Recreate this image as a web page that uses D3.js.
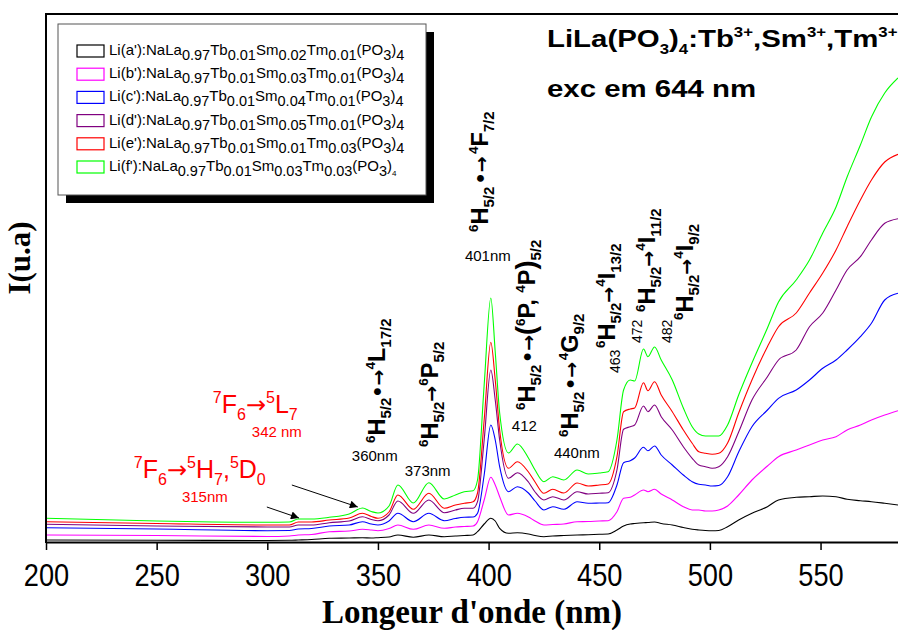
<!DOCTYPE html>
<html><head><meta charset="utf-8">
<script src="https://cdn.jsdelivr.net/npm/d3@7"></script>
<style>body{margin:0;background:#fff;} svg{display:block;} text{white-space:pre;}</style>
</head><body>
<svg id="c" width="898" height="630"></svg>
<script>
// ---------- DATA ----------
const wavelengths = [200,250,300,310,314,320,328,337,343,347,350,355,359,366,373,380,385,389,393,395,398,401,403,405,409,413,418,421,425,429,434,440,445,450,454,458,461,464,466,470,472,475,478,483,488,492,495,498,501,504,508,513,519,526,531,539,545,551,557,562,568,573,579,585];

const seriesA = [2,1.7,1.5,1.7,2,2.5,3.7,4,4.3,4, 4.3,5,7,4.7,7,5.3,6,6.5,7,10.3, 18,23.7,21,13.7,8.7,9.3,8,6.5,5.3,6, 6.5,7,7.3,7.7,8,12,16,18,18.5,19.3, 19.5,20,18.5,17,14.5,12.7,12,11.5,11.3,11.5, 15.3,22,28.7,35.3,42,44.7,45.3,46,45.3,42.7, 41.3,40.3,38.7,37];
const seriesB = [7,6.5,5.5,6,7,7.5,10.3,11,12.7,12, 11.3,13.5,17,12.7,17,13.7,15,15.5,16,20.3, 42,64.7,57,45.3,27,28.7,25,21,17,17.5, 18,20.3,20.5,21,21.3,30.3,43.7,44.7,47,52, 50.3,52.7,48,42,35.3,32,32,31,31,32, 36,47,62,76,85.3,92,97,102,105.3,112, 117,122,127,131.3];
const seriesC = [14.3,13,11.3,11.5,13,13.5,16,17,20.3,18, 17,21,28.7,20.3,28.7,21.3,23.5,24.7,25,28.7, 67,117,102,75.3,50.3,55.3,49,41,32,35.3, 32.7,40.3,38.7,39,39.3,57,79.3,81.3,84,94.7, 91.3,96,87,77,67,60.3,57.7,57,56,56.5, 65.3,90,115.3,132,143.7,152,162,173.7,182,192, 205.3,218.7,242,248.7];
const seriesD = [17.7,16,15,15,17,17,19.3,21,25.3,22.5, 21.3,27,41,28.7,42,29.3,32,33.7,33.7,40.3, 102,172,142,102,63.7,69.3,60,50,42,45.3, 42,50.3,48,48.7,49.3,72,112.7,115.3,117,136, 130.3,137,125.3,112,95.3,83.7,77,75.3,73.7,75.3, 85.3,110,142,165.3,182,192,215.3,229,252,272, 285.3,302,318.7,323.3];
const seriesE = [20.3,18.5,17,17,20,20,22,24,28.7,25.5, 23.7,30,47,32.7,48.7,33.7,37,38.7,40.3,49, 122,199.7,162,112,73.7,80.3,70,60,48.7,52.7, 49,59,56,57,58,85.3,130.3,133,134,159.3, 151.3,160.3,147,130.3,112,98.7,90.3,88.7,87.7,88.7, 99,129,162,195.3,215.3,229,249,269,292,315.3, 342,362,380,387.7];
const seriesF = [23.7,21,19.7,20,23,23,24.7,28,34,30.5, 29,36,57,39,59.3,43,47,50.3,51.3,62, 157,244,190,129,89,98,84,72,60.3,65.3, 62,72,68,69,70.3,102,152,162,161,193, 185.3,195,182,162,134,115.3,108,106,106,106, 117,147,179,214,240,262,282,309,335,365, 397,425,449,464];

const seriesLetters = ["a","b","c","d","e","f"];
const smContent = ["0.02","0.03","0.04","0.05","0.01","0.03"];
const tmContent = ["0.01","0.01","0.01","0.01","0.03","0.03"];
const seriesColors = ["#000000","#ff00ff","#0000ff","#800080","#ff0000","#00ff00"];
const xTicks = [200,250,300,350,400,450,500,550];

// ---------- SETUP ----------
const svg = d3.select("#c");
const W = 898, H = 630;
const x = d3.scaleLinear().domain([200,585]).range([46,898]);
const y = d3.scaleLinear().domain([0,528]).range([542,14]);
const SANS = "Liberation Sans, Arial, sans-serif";
const ARW = "DejaVu Sans, sans-serif";

const defs = svg.append("defs");
defs.append("clipPath").attr("id","plotclip").append("rect")
  .attr("x",46).attr("y",14).attr("width",W-46).attr("height",528);
defs.append("marker").attr("id","ah").attr("viewBox","0 0 10 10")
  .attr("refX",10).attr("refY",5).attr("markerWidth",14).attr("markerHeight",8)
  .attr("markerUnits","userSpaceOnUse").attr("orient","auto")
  .append("path").attr("d","M0,0L10,5L0,10z").attr("fill","#000");

function rich(t, segs, b) {
  let cur = 0;
  segs.forEach(s => {
    const [txt, k, sz, fam] = s;
    const off = k === "sup" ? -b.up : k === "sub" ? b.down : 0;
    const ts = t.append("tspan").attr("dy", off - cur)
      .attr("font-size", sz || (k === "n" ? b.size : (k === "sup" ? (b.supSize || b.small) : b.small)))
      .text(txt);
    if (fam) ts.attr("font-family", fam);
    cur = off;
  });
}

// ---------- CURVES ----------
const allSeries = [seriesA, seriesB, seriesC, seriesD, seriesE, seriesF];
const line = d3.line().x((d,i)=>x(wavelengths[i])).y(d=>y(d)).curve(d3.curveMonotoneX);
const gc = svg.append("g").attr("clip-path","url(#plotclip)");
allSeries.forEach((s,i)=>{
  gc.append("path").datum(s).attr("d",line).attr("fill","none")
    .attr("stroke",seriesColors[i]).attr("stroke-width",1.1);
});

// ---------- AXES ----------
const xAxis = svg.append("g").attr("transform","translate(0,542)")
  .call(d3.axisBottom(x).tickValues(xTicks).tickSize(8).tickSizeOuter(0).tickFormat(d3.format("d")));
xAxis.select(".domain").attr("stroke","#000").attr("stroke-width",2);
xAxis.selectAll(".tick line").attr("stroke","#000").attr("stroke-width",1.5);
xAxis.selectAll(".tick text").attr("y",44).attr("dy",0)
  .attr("font-family",SANS).attr("font-size",32)
  .attr("fill","#000").attr("transform","scale(0.85,1)");
svg.append("line").attr("x1",46).attr("x2",46).attr("y1",13).attr("y2",543).attr("stroke","#000").attr("stroke-width",2);
svg.append("line").attr("x1",45).attr("x2",W).attr("y1",14).attr("y2",14).attr("stroke","#000").attr("stroke-width",2);

svg.append("text").attr("x",472).attr("y",622.5).attr("text-anchor","middle")
  .attr("font-family","Liberation Serif, Times New Roman, serif").attr("font-weight","bold")
  .attr("font-size",33).text("Longeur d'onde (nm)");
svg.append("text").attr("transform","translate(30,258) rotate(-90)").attr("text-anchor","middle")
  .attr("font-family","Liberation Serif, Times New Roman, serif").attr("font-weight","bold")
  .attr("font-size",31).text("I(u.a)");

// ---------- LEGEND ----------
const lg = svg.append("g");
lg.append("rect").attr("x",66).attr("y",32).attr("width",368).attr("height",171).attr("fill","#000");
lg.append("rect").attr("x",58).attr("y",24).attr("width",368).attr("height",171).attr("fill","#fff").attr("stroke","#555").attr("stroke-width",1);
seriesLetters.forEach((L,i)=>{
  const cy = 51 + i*23.2;
  lg.append("rect").attr("x",77).attr("y",cy-6).attr("width",27).attr("height",12)
    .attr("fill","#fff").attr("stroke",seriesColors[i]).attr("stroke-width",1.2);
  const t = lg.append("text").attr("x",109).attr("y",cy+4)
    .attr("font-family",SANS).attr("fill","#000");
  const last = i === 5
    ? [["(PO","n"],["3","sub"],[")","n"],["4","sub",8]]
    : [["(PO","n"],["3","sub"],[")","n"],["4","sub"]];
  rich(t, [["Li("+L+"'):NaLa","n"],["0.97","sub"],["Tb","n"],["0.01","sub"],["Sm","n"],[smContent[i],"sub"],["Tm","n"],[tmContent[i],"sub"]].concat(last),
    {size:15, small:14.5, up:0, down:5});
});

// ---------- TITLE ----------
const t1 = svg.append("text").attr("transform","translate(547,47) scale(1.2,1)")
  .attr("font-family",SANS).attr("font-weight","bold").attr("fill","#000");
rich(t1, [["LiLa(PO","n"],["3","sub"],[")","n"],["4","sub"],[":Tb","n"],["3+","sup"],[",Sm","n"],["3+","sup"],[",Tm","n"],["3+","sup"]],
  {size:24.5, small:14, up:10, down:7});
svg.append("text").attr("transform","translate(547,97) scale(1.2,1)")
  .attr("font-family",SANS).attr("font-weight","bold")
  .attr("font-size",24.5).text("exc em 644 nm");

// ---------- ANNOTATIONS ----------
const boldBase = {size:23.5, small:15, supSize:13.5, up:10, down:6};
const dotArrow = ["•→","n",19,ARW];
const plainArrow = ["→","n",19,ARW];
const rotLabels = [
  {nm:353.1, v:99,  segs:[["6","sup"],["H","n"],["5/2","sub"],dotArrow,["4","sup"],["L","n"],["17/2","sub"]]},
  {nm:377.1, v:95,  segs:[["6","sup"],["H","n"],["5/2","sub"],plainArrow,["6","sup"],["P","n"],["5/2","sub"]]},
  {nm:399.6, v:310, segs:[["6","sup"],["H","n"],["5/2","sub"],[" ","n",8],dotArrow,[" ","n",8],["4","sup"],["F","n"],["7/2","sub"]]},
  {nm:420.9, v:132, segs:[["6","sup"],["H","n"],["5/2","sub"],[" ","n",6],dotArrow,["(","n",27],["6","sup"],["P, ","n"],["4","sup"],["P","n"],[")","n",27],["5/2","sub"]]},
  {nm:440.3, v:105, segs:[["6","sup"],["H","n"],["5/2","sub"],[" ","n",6],dotArrow,[" ","n",6],["4","sup"],["G","n"],["9/2","sub"]]},
  {nm:457.0, v:194, segs:[["6","sup"],["H","n"],["5/2","sub"],plainArrow,["4","sup"],["I","n"],["13/2","sub"]]},
  {nm:475.1, v:230, segs:[["6","sup"],["H","n"],["5/2","sub"],plainArrow,["4","sup"],["I","n"],["11/2","sub"]]},
  {nm:492.2, v:222, segs:[["6","sup"],["H","n"],["5/2","sub"],plainArrow,["4","sup"],["I","n"],["9/2","sub"]]}
];
rotLabels.forEach(l=>{
  const t = svg.append("text").attr("transform",`translate(${x(l.nm)},${y(l.v)}) rotate(-90)`)
    .attr("font-family",SANS).attr("font-weight","bold").attr("fill","#000");
  rich(t, l.segs, boldBase);
});

const nmLabels = [
  {nm:338.2, v:81,  t:"360nm"},
  {nm:362.1, v:66,  t:"373nm"},
  {nm:389.3, v:281, t:"401nm"},
  {nm:410.5, v:111, t:"412"},
  {nm:429.5, v:84,  t:"440nm"}
];
nmLabels.forEach(l=>{
  svg.append("text").attr("x",x(l.nm)).attr("y",y(l.v))
    .attr("font-family",SANS).attr("font-size",15).attr("fill","#000").text(l.t);
});
const rotNm = [
  {nm:459.3, v:169, t:"463"},
  {nm:469.2, v:199, t:"472"},
  {nm:482.7, v:199, t:"482"}
];
rotNm.forEach(l=>{
  svg.append("text").attr("transform",`translate(${x(l.nm)},${y(l.v)}) rotate(-90)`)
    .attr("font-family",SANS).attr("font-size",14).attr("fill","#000").text(l.t);
});

// red Tb labels
const redBase = {size:25, small:16, up:10, down:7};
const redArrow = ["→","n",24,ARW];
const r1 = svg.append("text").attr("x",x(275.4)).attr("y",y(129))
  .attr("font-family",SANS).attr("fill","#ff0000");
rich(r1, [["7","sup"],["F","n"],["6","sub"],redArrow,["5","sup"],["L","n"],["7","sub"]], redBase);
svg.append("text").attr("x",x(293.0)).attr("y",y(105))
  .attr("font-family",SANS).attr("font-size",15).attr("fill","#ff0000").text("342 nm");
const r2 = svg.append("text").attr("x",x(239.7)).attr("y",y(64))
  .attr("font-family",SANS).attr("fill","#ff0000");
rich(r2, [["7","sup"],["F","n"],["6","sub"],redArrow,["5","sup"],["H","n"],["7","sub"],[",","n"],["5","sup"],["D","n"],["0","sub"]], redBase);
svg.append("text").attr("x",x(261.4)).attr("y",y(40))
  .attr("font-family",SANS).attr("font-size",15).attr("fill","#ff0000").text("315nm");

// arrows
const arrows = [
  {x1:311.1, y1:57, x2:340.9, y2:35},
  {x1:299.8, y1:35, x2:314.3, y2:24}
];
arrows.forEach(a=>{
  svg.append("line").attr("x1",x(a.x1)).attr("y1",y(a.y1)).attr("x2",x(a.x2)).attr("y2",y(a.y2))
    .attr("stroke","#000").attr("stroke-width",1).attr("marker-end","url(#ah)");
});
</script>
</body></html>
